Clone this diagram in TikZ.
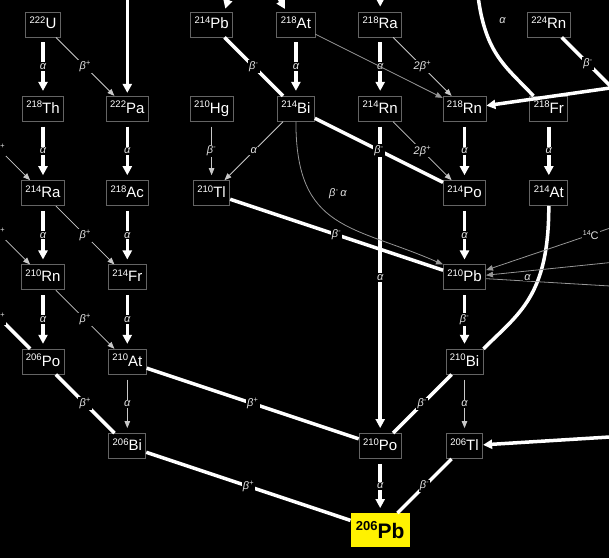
\documentclass[tikz,border=0pt]{standalone}
\usepackage{fontspec}
\setmainfont{Liberation Sans}
\usetikzlibrary{arrows.meta}

\definecolor{boxgray}{RGB}{100,100,100}
\definecolor{linegray}{RGB}{200,200,200}
\definecolor{dimgray}{RGB}{150,150,150}
\definecolor{labelgray}{RGB}{225,225,225}

\newcommand{\iso}[2]{\raisebox{5.5pt}{\fontsize{9.5}{9.5}\selectfont #1}#2}
\newcommand{\isobig}[2]{\raisebox{8.4pt}{\fontsize{13}{13}\selectfont #1}{\fontsize{21}{21}\selectfont #2}}
\newcommand{\bplus}{β\textsuperscript{+}}
\newcommand{\bminus}{β\textsuperscript{-}}

\begin{document}
\begin{tikzpicture}[x=84.3pt, y=-84.3pt,
  nuc/.style={draw=boxgray, fill=black, text=white, line width=0.8pt,
    font=\fontsize{15}{15}\selectfont, minimum height=25pt,
    text height=12.5pt, text depth=3.5pt, inner xsep=4pt, inner ysep=0pt},
  final/.style={fill=yellow, text=black, font=\bfseries,
    minimum width=59pt, minimum height=34pt, inner sep=0pt},
  lbl/.style={fill=black, text=labelgray, font=\itshape\fontsize{11}{11}\selectfont, inner sep=1.2pt},
  heavy/.style={white, line width=3.5pt},
  heavytip/.style={heavy, -{Triangle[width=9pt,length=9pt]}},
  light/.style={linegray, line width=0.8pt, -{Triangle[width=5.5pt,length=7pt]}},
  dim/.style={light, dimgray},
  vert/.style={shorten <=5pt, shorten >=5pt}]

% Frame
\useasboundingbox (-0.5101,-0.2906) rectangle (6.7141,6.3286);
\fill[black] (-0.5101,-0.2906) rectangle (6.7141,6.3286);
\clip (-0.5101,-0.2906) rectangle (6.7141,6.3286);

% Nuclides
\node[nuc] (u222) at (0,0) {\iso{222}{U}};
\node[nuc] (pb214) at (2,0) {\iso{214}{Pb}};
\node[nuc] (at218) at (3,0) {\iso{218}{At}};
\node[nuc] (ra218) at (4,0) {\iso{218}{Ra}};
\node[nuc] (rn224) at (6,0) {\iso{224}{Rn}};

\node[nuc] (th218) at (0,1) {\iso{218}{Th}};
\node[nuc] (pa222) at (1,1) {\iso{222}{Pa}};
\node[nuc] (hg210) at (2,1) {\iso{210}{Hg}};
\node[nuc] (bi214) at (3,1) {\iso{214}{Bi}};
\node[nuc] (rn214) at (4,1) {\iso{214}{Rn}};
\node[nuc] (rn218) at (5,1) {\iso{218}{Rn}};
\node[nuc] (fr218) at (6,1) {\iso{218}{Fr}};

\node[nuc] (ra214) at (0,2) {\iso{214}{Ra}};
\node[nuc] (ac218) at (1,2) {\iso{218}{Ac}};
\node[nuc] (tl210) at (2,2) {\iso{210}{Tl}};
\node[nuc] (po214) at (5,2) {\iso{214}{Po}};
\node[nuc] (at214) at (6,2) {\iso{214}{At}};

\node[nuc] (rn210) at (0,3) {\iso{210}{Rn}};
\node[nuc] (fr214) at (1,3) {\iso{214}{Fr}};
\node[nuc] (pb210) at (5,3) {\iso{210}{Pb}};

\node[nuc] (po206) at (0,4) {\iso{206}{Po}};
\node[nuc] (at210) at (1,4) {\iso{210}{At}};
\node[nuc] (bi210) at (5,4) {\iso{210}{Bi}};

\node[nuc] (bi206) at (1,5) {\iso{206}{Bi}};
\node[nuc] (po210) at (4,5) {\iso{210}{Po}};
\node[nuc] (tl206) at (5,5) {\iso{206}{Tl}};

\node[final] (pb206) at (4,6) {\isobig{206}{Pb}};

% Ends outside the frame
\coordinate (pa-src) at (1,-1);
\coordinate (po218) at (2.4,-1);
\coordinate (ra-src) at (4,-1);
\coordinate (fr-src) at (5.125,-1);
\coordinate (fr224) at (7,1);
\coordinate (rn-src) at (8.5,0.5);
\coordinate (ac214) at (-1,1);
\coordinate (fr210) at (-1,2);
\coordinate (at206) at (-1,3);
\coordinate (c14-src) at (7.082,2.295);
\coordinate (pb-src) at (7.082,2.788);
\coordinate (hg-out) at (7.082,3.123);
\coordinate (hg206) at (7.082,4.871);

% Alpha decays
\draw[heavytip, vert] (u222) -- node[lbl] {α} (th218);
\draw[heavytip, vert] (th218) -- node[lbl] {α} (ra214);
\draw[heavytip, vert] (ra214) -- node[lbl] {α} (rn210);
\draw[heavytip, vert] (rn210) -- node[lbl] {α} (po206);
\draw[heavytip, vert] (pa222) -- node[lbl] {α} (ac218);
\draw[heavytip, vert] (ac218) -- node[lbl] {α} (fr214);
\draw[heavytip, vert] (fr214) -- node[lbl] {α} (at210);
\draw[heavytip, vert] (at218) -- node[lbl] {α} (bi214);
\draw[heavytip, vert] (ra218) -- node[lbl] {α} (rn214);
\draw[heavytip, vert] (rn214) -- node[lbl] {α} (po210);
\draw[heavytip, vert] (rn218) -- node[lbl] {α} (po214);
\draw[heavytip, vert] (po214) -- node[lbl] {α} (pb210);
\draw[heavytip, vert] (fr218) -- node[lbl] {α} (at214);
\draw[heavytip, vert] (po210) -- node[lbl] {α} (pb206);
\draw[heavytip, vert] (pb210) -- node[lbl] {\bminus} (bi210);
\draw[light, vert] (at210) -- node[lbl] {α} (bi206);
\draw[light, vert] (bi210) -- node[lbl] {α} (tl206);
\draw[light, vert] (hg210) -- node[lbl] {\bminus} (tl210);

% Thin side branches
\draw[light] (u222) -- node[lbl] {\bplus} (pa222);
\draw[light] (ra214) -- node[lbl] {\bplus} (fr214);
\draw[light] (rn210) -- node[lbl] {\bplus} (at210);
\draw[light] (ra218) -- node[lbl] {2\bplus} (rn218);
\draw[light] (rn214) -- node[lbl] {2\bplus} (po214);
\draw[light] (bi214) -- node[lbl] {α} (tl210);
\draw[dim] (at218) -- (rn218);
\draw[light] (ac214) -- node[lbl, pos=0.57] {\bplus} (ra214);
\draw[light] (fr210) -- node[lbl, pos=0.57] {\bplus} (rn210);

% Beta decays
\draw[heavy] (at206) -- node[lbl, pos=0.57] {\bplus} (po206);
\draw[heavy] (pb214) -- node[lbl] {\bminus} (bi214);
\draw[heavy] (bi214) -- node[lbl] {\bminus} (po214);
\draw[heavy] (tl210) -- node[lbl] {\bminus} (pb210);
\draw[heavy] (bi210) -- node[lbl] {\bminus} (po210);
\draw[heavy] (tl206) -- node[lbl] {\bminus} (pb206);
\draw[heavy] (po206) -- node[lbl] {\bplus} (bi206);
\draw[heavy] (at210) -- node[lbl] {\bplus} (po210);
\draw[heavy] (bi206) -- node[lbl] {\bplus} (pb206);
\draw[heavy] (rn224) -- node[lbl, pos=0.37] {\bminus} (fr224);

% From outside the frame
\draw[heavytip, shorten >=3pt] (pa-src) -- (pa222);
\draw[heavytip, shorten >=5pt] (ra-src) -- (ra218);
\draw[heavytip, shorten >=3pt] (po218) -- (pb214.45);
\draw[heavytip, shorten >=3pt] (po218) -- (at218.126);
\draw[heavytip] (rn-src) -- (rn218);
\draw[heavytip] (hg206) -- (tl206);
\draw[heavy] (fr-src) .. controls +(0,1.30) and +(-0.40,-0.43) .. (fr218.140)
    node[lbl, pos=0.33, right=14pt] {α};
\draw[heavy] (at214.south) .. controls +(0,1.07) and +(0.42,-0.42) .. (bi210.north east);
\draw[dim] (bi214.south) .. controls +(0,1.30) and +(-1.07,-0.47) .. (pb210.north west)
    node[lbl, pos=0.3, right=17pt] {\bminus\,α};
\draw[dim] (c14-src) -- node[lbl, pos=0.32, font=\fontsize{11}{11}\selectfont]
    {\raisebox{4pt}{\fontsize{7}{7}\selectfont 14}C} (pb210);
\draw[dim] (pb-src) -- (pb210);
\draw[dimgray, line width=0.8pt] (pb210) -- node[lbl, pos=0.27, yshift=4pt] {α} (hg-out);
\end{tikzpicture}
\end{document}
